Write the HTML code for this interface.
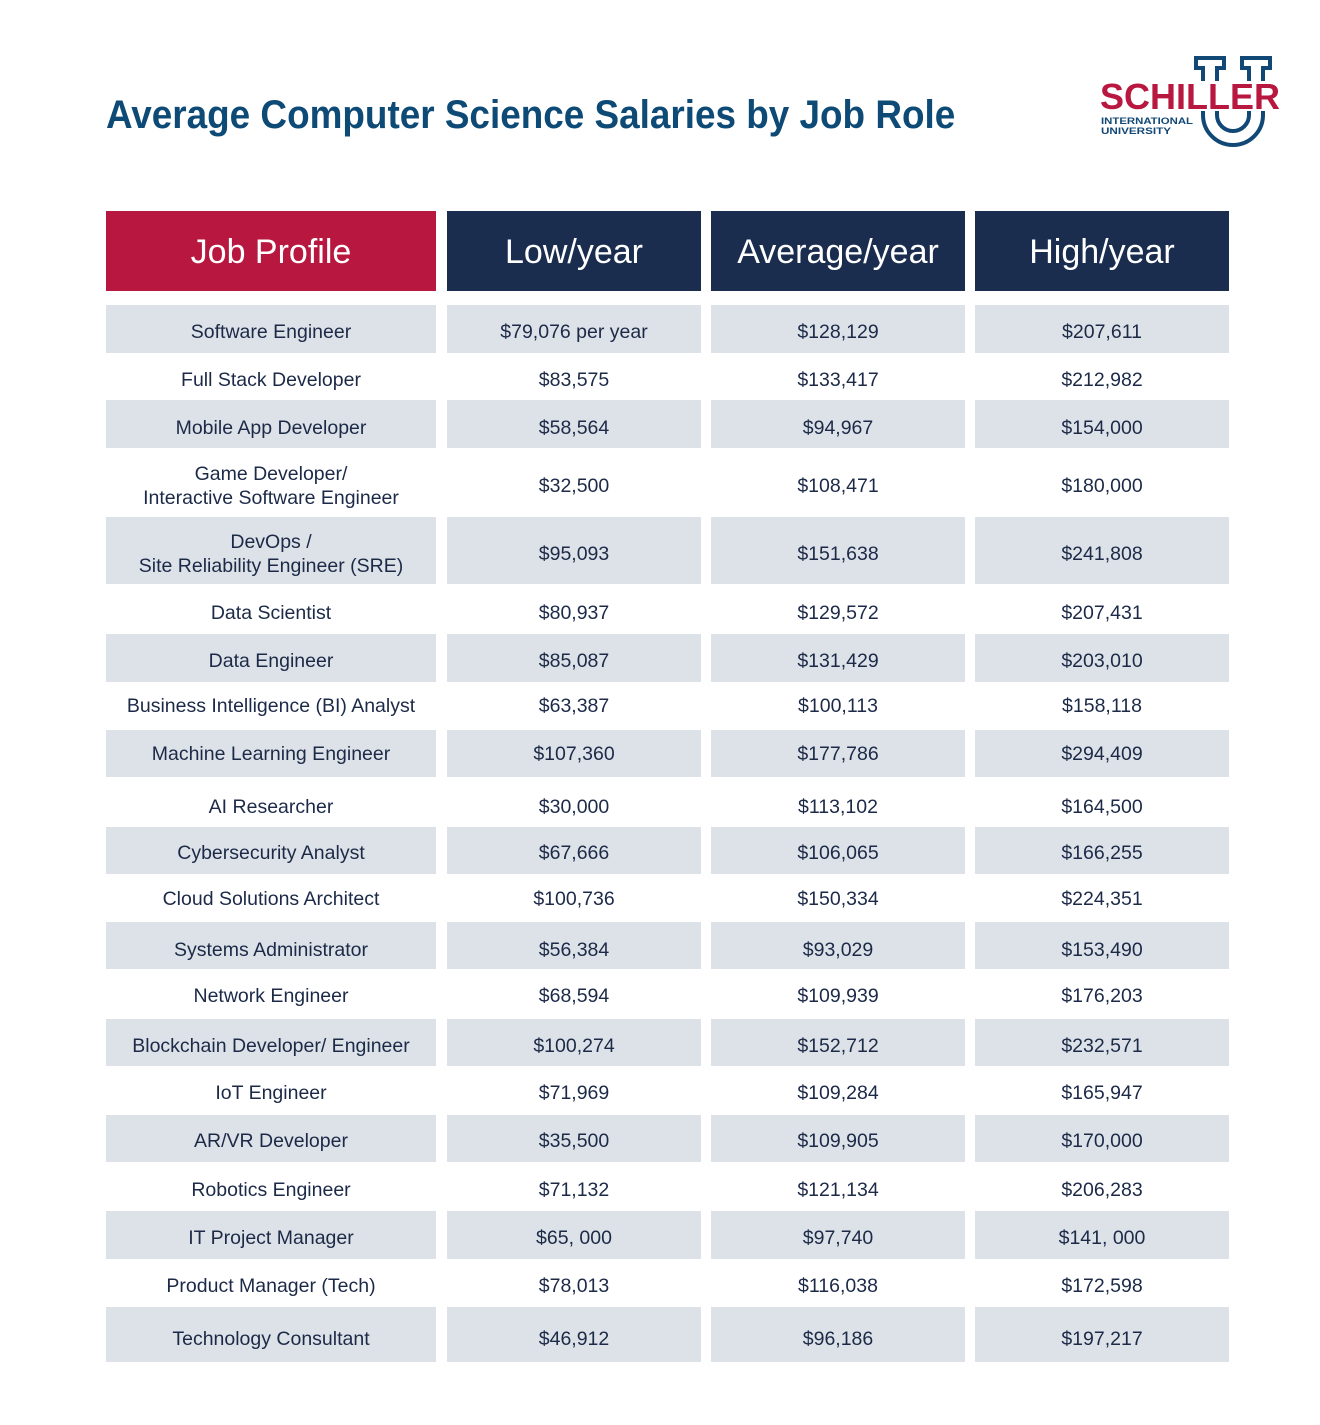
<!DOCTYPE html>
<html><head><meta charset="utf-8"><style>
body{margin:0;background:#fff;width:1320px;height:1425px;position:relative;overflow:hidden;font-family:"Liberation Sans",sans-serif}
.abs{position:absolute}
.hd{position:absolute;top:211px;height:80px;color:#fff;font-size:34px;display:flex;align-items:center;justify-content:center;padding-top:2px;box-sizing:border-box}
.band{position:absolute;background:#dce2e7}
.cell{position:absolute;color:#1c2a48;font-size:19.5px;text-align:center;line-height:24px;transform:translateY(-50%);margin-top:1px}
</style></head><body>
<div class="abs" style="left:106px;top:93px;font-size:40px;font-weight:bold;color:#0d4a75;transform:scaleX(0.922);transform-origin:left;white-space:nowrap">Average Computer Science Salaries by Job Role</div>
<div class="abs" style="left:1098px;top:55px;width:190px;height:95px">
<svg width="190" height="95" viewBox="0 0 190 95">
<path d="M98 3 H126 V13 H119 V60 A16 16 0 0 0 151 60 V13 H144 V3 H172 V13 H165 V60 A30 30 0 0 1 105 60 V13 H98 Z" fill="none" stroke="#124876" stroke-width="4"/>
<rect x="96" y="26" width="90" height="30" fill="#fff"/>
<text x="2" y="54" font-family="Liberation Sans,sans-serif" font-weight="bold" font-size="36" fill="#b8173f" textLength="180" lengthAdjust="spacingAndGlyphs">SCHILLER</text>
<text x="3" y="69" font-family="Liberation Sans,sans-serif" font-weight="bold" font-size="9.5" fill="#124876" textLength="92" lengthAdjust="spacingAndGlyphs">INTERNATIONAL</text>
<text x="3" y="79" font-family="Liberation Sans,sans-serif" font-weight="bold" font-size="9.5" fill="#124876" textLength="70" lengthAdjust="spacingAndGlyphs">UNIVERSITY</text>
</svg></div>
<div class="hd" style="left:106px;width:330px;background:#b8173f">Job Profile</div>
<div class="hd" style="left:447px;width:254px;background:#1b2d4f">Low/year</div>
<div class="hd" style="left:711px;width:254px;background:#1b2d4f">Average/year</div>
<div class="hd" style="left:975px;width:254px;background:#1b2d4f">High/year</div>
<div id="tbl"></div>
<script>
const roles=["Software Engineer","Full Stack Developer","Mobile App Developer","Game Developer/<br>Interactive Software Engineer","DevOps /<br>Site Reliability Engineer (SRE)","Data Scientist","Data Engineer","Business Intelligence (BI) Analyst","Machine Learning Engineer","AI Researcher","Cybersecurity Analyst","Cloud Solutions Architect","Systems Administrator","Network Engineer","Blockchain Developer/ Engineer","IoT Engineer","AR/VR Developer","Robotics Engineer","IT Project Manager","Product Manager (Tech)","Technology Consultant"];
const low=["$79,076 per year","$83,575","$58,564","$32,500","$95,093","$80,937","$85,087","$63,387","$107,360","$30,000","$67,666","$100,736","$56,384","$68,594","$100,274","$71,969","$35,500","$71,132","$65, 000","$78,013","$46,912"];
const avg=["$128,129","$133,417","$94,967","$108,471","$151,638","$129,572","$131,429","$100,113","$177,786","$113,102","$106,065","$150,334","$93,029","$109,939","$152,712","$109,284","$109,905","$121,134","$97,740","$116,038","$96,186"];
const high=["$207,611","$212,982","$154,000","$180,000","$241,808","$207,431","$203,010","$158,118","$294,409","$164,500","$166,255","$224,351","$153,490","$176,203","$232,571","$165,947","$170,000","$206,283","$141, 000","$172,598","$197,217"];
const centers=[331,379,427,485,553,612,660,705,753,806,852,898,949,995,1045,1092,1140,1189,1237,1285,1338];
const bands=[[305,353],[400,448],[517,584],[634,682],[730,777],[827,874],[922,969],[1019,1066],[1115,1162],[1211,1259],[1307,1362]];
const cols=[[106,330],[447,254],[711,254],[975,254]];
const t=document.getElementById('tbl');
bands.forEach((b,bi)=>{cols.forEach((c,ci)=>{
 const d=document.createElement('div');d.className='band';
 d.style.cssText=`left:${c[0]}px;width:${c[1]}px;top:${b[0]}px;height:${b[1]-b[0]}px`;
 
 
 t.appendChild(d);});});
const data=[roles,low,avg,high];
const names=['job-role-cell','low-salary-cell','average-salary-cell','high-salary-cell'];
roles.forEach((r,i)=>{cols.forEach((c,ci)=>{
 const d=document.createElement('div');d.className='cell';
 d.style.left=c[0]+'px';d.style.width=c[1]+'px';d.style.top=centers[i]+'px';
 d.innerHTML=data[ci][i];
 
 
 t.appendChild(d);});});
</script>
</body></html>
